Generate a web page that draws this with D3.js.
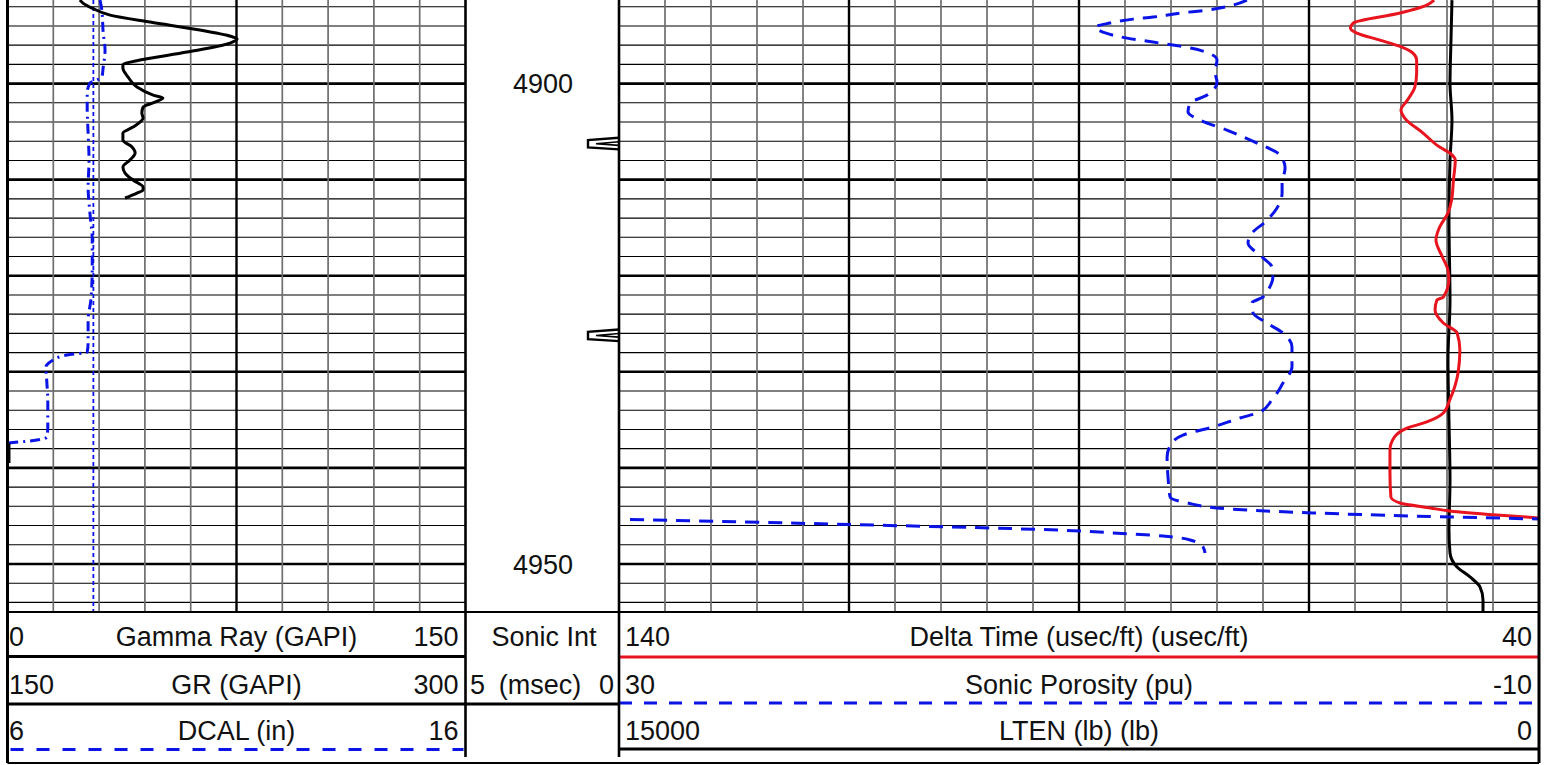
<!DOCTYPE html>
<html>
<head>
<meta charset="utf-8">
<script src="https://cdn.jsdelivr.net/npm/d3@7"></script>
<style>
  body { margin: 0; background: #fff; }
  svg { display: block; }
  text { font-family: "Liberation Sans", Arial, sans-serif; fill: #111; }
</style>
</head>
<body>
<svg id="log" width="1548" height="765"></svg>
<script>
// ---- curve data: [depth (ft), value] ----
const gammaRay = [
  [4891.31, 23.7], [4891.62, 24.7], [4892.14, 27.7], [4892.87, 33.6], [4893.60, 46.7],
  [4894.43, 63.0], [4895.16, 73.9], [4895.37, 75.2], [4895.79, 72.9], [4896.72, 58.8],
  [4897.55, 43.4], [4898.07, 37.8], [4898.39, 37.8], [4899.32, 39.5], [4900.36, 42.4],
  [4901.20, 47.7], [4901.51, 50.9], [4901.93, 48.3], [4902.45, 44.4], [4903.07, 44.0],
  [4903.59, 44.4], [4904.53, 41.1], [4905.15, 37.8], [4905.88, 37.8], [4906.61, 40.8],
  [4907.23, 41.8], [4907.96, 40.1], [4908.69, 37.8], [4909.31, 38.5], [4910.04, 41.1],
  [4910.77, 44.4], [4911.08, 44.4], [4911.39, 42.4], [4911.91, 38.5]
];
const gammaRayLower = [[4937.45, 0.4], [4939.5, 0.4]];

const dcal = [
  [4891.31, 8.02], [4892.35, 8.06], [4894.75, 8.09], [4896.51, 8.13], [4898.28, 8.09],
  [4899.32, 8.06], [4899.64, 7.95], [4899.95, 7.80], [4900.99, 7.74], [4902.45, 7.74],
  [4905.15, 7.76], [4907.96, 7.78], [4910.77, 7.76], [4913.48, 7.80], [4916.29, 7.85],
  [4919.10, 7.85], [4922.53, 7.82], [4924.61, 7.76], [4927.00, 7.76], [4927.94, 7.74],
  [4928.25, 7.30], [4928.98, 6.93], [4929.50, 6.84], [4931.17, 6.86], [4932.93, 6.88],
  [4935.74, 6.88], [4936.78, 6.86], [4937.10, 6.64], [4937.30, 6.27], [4937.41, 6.01]
];
const bitSize = 7.875;

const deltaTime = [
  [4891.31, 51.4], [4891.83, 52.2], [4892.66, 55.1], [4893.70, 60.2], [4894.22, 60.5],
  [4894.75, 59.8], [4895.47, 57.3], [4896.20, 54.9], [4896.83, 53.7], [4897.55, 53.3],
  [4898.91, 53.3], [4900.36, 53.5], [4901.72, 54.3], [4902.76, 55.0], [4903.59, 54.6],
  [4905.15, 52.6], [4906.61, 50.8], [4907.23, 49.7], [4907.96, 49.1], [4910.04, 49.3],
  [4912.12, 49.5], [4913.48, 49.9], [4914.93, 50.8], [4916.29, 51.2], [4918.05, 50.5],
  [4919.41, 49.9], [4920.45, 49.8], [4922.22, 50.4], [4922.53, 51.1], [4923.57, 51.3],
  [4924.92, 50.4], [4925.96, 48.9], [4927.73, 48.6], [4930.12, 48.8], [4932.93, 49.7],
  [4934.29, 50.4], [4935.22, 52.2], [4935.85, 54.3], [4936.78, 55.7], [4938.14, 56.2],
  [4940.53, 56.2], [4943.03, 56.1], [4943.65, 55.1], [4944.17, 51.8], [4944.48, 49.7],
  [4944.90, 44.6], [4945.21, 39.9], [4945.40, 37.0]
];

const sonicPorosity = [
  [4891.31, 2.70], [4891.83, 3.30], [4892.35, 4.43], [4892.66, 5.61], [4893.08, 6.78],
  [4893.29, 7.65], [4893.70, 8.65], [4894.12, 9.30], [4894.64, 8.96], [4895.27, 7.91],
  [4895.68, 6.78], [4896.10, 5.61], [4896.62, 4.61], [4897.55, 4.00], [4898.80, 4.09],
  [4899.84, 4.00], [4901.20, 4.43], [4902.03, 5.17], [4902.97, 5.26], [4903.80, 4.74],
  [4904.84, 3.57], [4906.19, 2.26], [4907.44, 1.26], [4908.79, 1.04], [4910.35, 1.17],
  [4911.39, 1.17], [4912.95, 1.39], [4914.41, 1.91], [4915.56, 2.48], [4916.60, 2.65],
  [4918.05, 2.04], [4919.10, 1.61], [4920.14, 1.57], [4921.49, 1.78], [4922.22, 2.00],
  [4922.84, 2.48], [4923.88, 2.43], [4924.92, 1.83], [4925.96, 1.13], [4927.42, 0.74],
  [4929.50, 0.74], [4931.17, 1.13], [4932.93, 1.61], [4934.18, 2.13], [4934.81, 3.00],
  [4935.74, 4.17], [4936.58, 5.48], [4937.41, 5.96], [4938.87, 6.17], [4940.95, 6.13],
  [4943.03, 6.04], [4943.65, 5.30], [4944.28, 3.43], [4944.69, -0.17], [4945.01, -4.52],
  [4945.32, -10.0], [4945.37, -10.48], [4945.89, -20.04], [4946.57, -30.04],
  [4946.77, -31.48], [4947.09, -33.65], [4947.50, -34.83], [4948.23, -35.39], [4948.86, -35.48]
];

const lineTension = [
  [4891.31, 1419], [4895.47, 1435], [4899.95, 1451], [4903.80, 1419], [4907.96, 1451],
  [4914.20, 1468], [4922.53, 1451], [4928.77, 1484], [4935.00, 1468], [4941.25, 1451],
  [4946.46, 1468], [4948.86, 1451], [4950.31, 1337], [4951.35, 1125], [4952.39, 962],
  [4953.75, 913], [4955.00, 913]
];

const sonicIntTicks = [4906.24, 4926.2];
const depthLabels = [4900, 4950];

// header rows: [left scale, title, right scale]
const leftHeader = [["0", "Gamma Ray (GAPI)", "150"], ["150", "GR (GAPI)", "300"], ["6", "DCAL (in)", "16"]];
const depthHeader = ["Sonic Int", ["5", "(msec)", "0"]];
const rightHeader = [["140", "Delta Time (usec/ft) (usec/ft)", "40"], ["30", "Sonic Porosity (pu)", "-10"], ["15000", "LTEN (lb) (lb)", "0"]];

// ---- layout ----
const TRACK1 = [7.5, 465.5];
const TRACK2 = [619, 1539];
const PLOT_BOTTOM = 612;
const HEAD_BOTTOM = 763;
const ROW_BASE = [646, 694, 740];
const BLUE = "#0a14e6", RED = "#e8141e";

const svg = d3.select("#log");

const y = d3.scaleLinear().domain([4891.3, 4955]).range([0, PLOT_BOTTOM]);
const xGR = d3.scaleLinear().domain([0, 150]).range(TRACK1);
const xCal = d3.scaleLinear().domain([6, 16]).range(TRACK1);
const xDT = d3.scaleLinear().domain([140, 40]).range(TRACK2);
const xPhi = d3.scaleLinear().domain([30, -10]).range(TRACK2);
const xTen = d3.scaleLinear().domain([15000, 0]).range(TRACK2);

const defs = svg.append("defs");
[["clipL", TRACK1], ["clipR", TRACK2]].forEach(([id, r]) => {
  defs.append("clipPath").attr("id", id)
    .append("rect").attr("x", r[0]).attr("y", 0)
    .attr("width", r[1] - r[0]).attr("height", PLOT_BOTTOM);
});

// ---- grids ----
const depthGrid = d3.range(4892, 4955, 2);
const grid = svg.append("g");

function drawGrid(range, xScale, vticks, thickVals) {
  grid.selectAll(null).data(depthGrid).enter().append("line")
    .attr("x1", range[0]).attr("x2", range[1])
    .attr("y1", d => y(d)).attr("y2", d => y(d))
    .attr("stroke", "#000")
    .attr("stroke-width", d => d % 10 === 0 ? 2.6 : 1.1);
  grid.selectAll(null).data(vticks).enter().append("line")
    .attr("x1", d => xScale(d)).attr("x2", d => xScale(d))
    .attr("y1", 0).attr("y2", PLOT_BOTTOM)
    .attr("stroke", d => thickVals.includes(d) ? "#000" : "#6e6e6e")
    .attr("stroke-width", d => thickVals.includes(d) ? 2.4 : 1.7);
}
drawGrid(TRACK1, xGR, d3.range(15, 150, 15), [75]);
drawGrid(TRACK2, xDT, d3.range(135, 40, -5), [115, 90, 65]);

// ---- curves ----
const curveL = svg.append("g").attr("clip-path", "url(#clipL)");
const curveR = svg.append("g").attr("clip-path", "url(#clipR)");

function lineFor(xScale) {
  return d3.line().x(d => xScale(d[1])).y(d => y(d[0])).curve(d3.curveMonotoneY);
}

curveL.append("line")
  .attr("x1", xCal(bitSize)).attr("x2", xCal(bitSize))
  .attr("y1", 0).attr("y2", PLOT_BOTTOM)
  .attr("stroke", BLUE).attr("stroke-width", 1.8).attr("stroke-dasharray", "4,3");

curveL.append("path").datum(dcal)
  .attr("d", lineFor(xCal)).attr("fill", "none")
  .attr("stroke", BLUE).attr("stroke-width", 3).attr("stroke-dasharray", "10,5,2,5");

[gammaRay, gammaRayLower].forEach(seg => {
  curveL.append("path").datum(seg)
    .attr("d", lineFor(xGR)).attr("fill", "none")
    .attr("stroke", "#000").attr("stroke-width", seg === gammaRayLower ? 3.5 : 3);
});

curveR.append("path").datum(lineTension)
  .attr("d", lineFor(xTen)).attr("fill", "none")
  .attr("stroke", "#000").attr("stroke-width", 3);

curveR.append("path").datum(deltaTime)
  .attr("d", lineFor(xDT)).attr("fill", "none")
  .attr("stroke", RED).attr("stroke-width", 3);

// porosity wraps onto the backup scale past -10
const phiMain = sonicPorosity.filter(d => d[1] >= -10);
const phiWrap = sonicPorosity.filter(d => d[1] < -10).map(d => [d[0], d[1] + 40]);
[phiMain, phiWrap].forEach(seg => {
  curveR.append("path").datum(seg)
    .attr("d", lineFor(xPhi)).attr("fill", "none")
    .attr("stroke", BLUE).attr("stroke-width", 3).attr("stroke-dasharray", "14,9");
});

// ---- depth column ----
svg.selectAll(".depth").data(depthLabels).enter().append("text")
  .attr("class", "depth")
  .attr("x", 543).attr("y", d => y(d) + 9.7)
  .attr("text-anchor", "middle").attr("font-size", 27)
  .text(d => d);

const tick = svg.selectAll(".tick").data(sonicIntTicks).enter().append("g")
  .attr("transform", d => `translate(0,${y(d)})`);
tick.append("path")
  .attr("d", "M619,-5.8 L588,-3.5 L588,3.8 L619,5.8")
  .attr("fill", "#fff").attr("stroke", "#000").attr("stroke-width", 2.4);
tick.append("path")
  .attr("d", "M619,-1.8 L596,0.2 L619,1.8")
  .attr("fill", "none").attr("stroke", "#000").attr("stroke-width", 1.6);

// ---- header ----
const head = svg.append("g");
const fs = 27;

leftHeader.forEach((row, i) => {
  head.append("text").attr("x", 9).attr("y", ROW_BASE[i]).attr("font-size", fs).text(row[0]);
  head.append("text").attr("x", d3.mean(TRACK1)).attr("y", ROW_BASE[i]).attr("font-size", fs)
    .attr("text-anchor", "middle").text(row[1]);
  head.append("text").attr("x", TRACK1[1] - 7).attr("y", ROW_BASE[i]).attr("font-size", fs)
    .attr("text-anchor", "end").text(row[2]);
});
rightHeader.forEach((row, i) => {
  head.append("text").attr("x", TRACK2[0] + 6).attr("y", ROW_BASE[i]).attr("font-size", fs).text(row[0]);
  head.append("text").attr("x", d3.mean(TRACK2)).attr("y", ROW_BASE[i]).attr("font-size", fs)
    .attr("text-anchor", "middle").text(row[1]);
  head.append("text").attr("x", TRACK2[1] - 7).attr("y", ROW_BASE[i]).attr("font-size", fs)
    .attr("text-anchor", "end").text(row[2]);
});
head.append("text").attr("x", 544).attr("y", ROW_BASE[0]).attr("font-size", fs)
  .attr("text-anchor", "middle").text(depthHeader[0]);
head.append("text").attr("x", 470).attr("y", ROW_BASE[1]).attr("font-size", fs).text(depthHeader[1][0]);
head.append("text").attr("x", 540).attr("y", ROW_BASE[1]).attr("font-size", fs)
  .attr("text-anchor", "middle").text(depthHeader[1][1]);
head.append("text").attr("x", 614).attr("y", ROW_BASE[1]).attr("font-size", fs)
  .attr("text-anchor", "end").text(depthHeader[1][2]);

// legend lines under each curve name
const legend = [
  [TRACK1[0], TRACK1[1], 656.5, "#000", null],
  [TRACK1[0], TRACK2[0], 704, "#000", null],
  [TRACK1[0] + 3, TRACK1[1] - 2, 749.5, BLUE, "13,13"],
  [TRACK2[0], TRACK2[1], 657, RED, null],
  [TRACK2[0], TRACK2[1], 703, BLUE, "13,12"],
  [TRACK2[0], TRACK2[1], 749, "#000", null]
];
head.selectAll(null).data(legend).enter().append("line")
  .attr("x1", d => d[0]).attr("x2", d => d[1])
  .attr("y1", d => d[2]).attr("y2", d => d[2])
  .attr("stroke", d => d[3]).attr("stroke-width", 2.8)
  .attr("stroke-dasharray", d => d[4]);

// ---- borders ----
const borders = [
  [TRACK1[0], 0, TRACK1[0], HEAD_BOTTOM, 3],
  [TRACK1[1], 0, TRACK1[1], 757, 2.6],
  [TRACK2[0], 0, TRACK2[0], 757, 2.6],
  [TRACK2[1], 0, TRACK2[1], HEAD_BOTTOM, 3],
  [TRACK1[0], PLOT_BOTTOM, TRACK2[1], PLOT_BOTTOM, 2],
  [TRACK1[0], HEAD_BOTTOM, TRACK2[1], HEAD_BOTTOM, 2]
];
svg.append("g").selectAll("line").data(borders).enter().append("line")
  .attr("x1", d => d[0]).attr("y1", d => d[1])
  .attr("x2", d => d[2]).attr("y2", d => d[3])
  .attr("stroke", "#000").attr("stroke-width", d => d[4]);
</script>
</body>
</html>
